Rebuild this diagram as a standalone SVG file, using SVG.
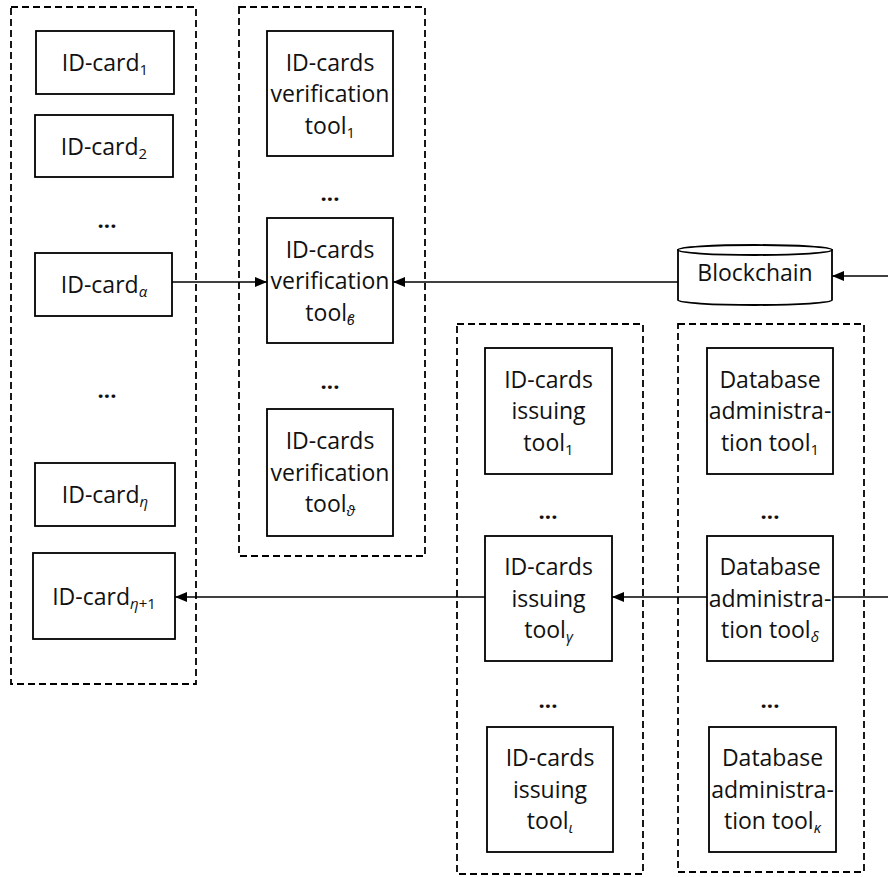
<svg xmlns="http://www.w3.org/2000/svg" width="888" height="877" viewBox="0 0 888 877">
<style>
.grp{fill:none;stroke:#000;stroke-width:1.8;stroke-dasharray:7,4}
.box{fill:#fff;stroke:#000;stroke-width:1.8}
.t{font-family:"Open Sans","Liberation Sans",sans-serif;font-size:23px;fill:#111;text-anchor:middle}
.s{font-size:15px}
.i{font-style:italic}
.dots{font-family:"Open Sans","Liberation Sans",sans-serif;font-size:22px;font-weight:bold;fill:#111;text-anchor:middle}
.ln{fill:none;stroke:#000;stroke-width:1.5}
</style>
<defs>
<marker id="ah" viewBox="0 0 12 10" refX="12" refY="5" markerWidth="12" markerHeight="10" markerUnits="userSpaceOnUse" orient="auto">
<path d="M0,0 L12,5 L0,10 z" fill="#000"/>
</marker>
</defs>
<g id="groups">
<rect id="grp-idcards" class="grp" x="11" y="7" width="185" height="677"/>
<rect id="grp-verification" class="grp" x="239" y="7" width="186" height="549"/>
<rect id="grp-issuing" class="grp" x="457" y="324" width="186" height="550"/>
<rect id="grp-database" class="grp" x="678" y="324" width="186" height="548"/>
</g>
<g id="connectors">
<line class="ln" x1="172" y1="282" x2="267" y2="282" marker-end="url(#ah)"/>
<line class="ln" x1="678" y1="282" x2="393" y2="282" marker-end="url(#ah)"/>
<line class="ln" x1="888" y1="276" x2="832" y2="276" marker-end="url(#ah)"/>
<line class="ln" x1="485" y1="597" x2="175" y2="597" marker-end="url(#ah)"/>
<line class="ln" x1="707" y1="597" x2="612" y2="597" marker-end="url(#ah)"/>
<line class="ln" x1="833" y1="597" x2="888" y2="597"/>
</g>
<g id="idcard1"><rect class="box" x="36" y="31" width="138" height="63"/><text class="t" x="105" y="71">ID-card<tspan class="s" dy="4">1</tspan></text></g>
<g id="idcard2"><rect class="box" x="35" y="115" width="138" height="62"/><text class="t" x="104" y="155">ID-card<tspan class="s" dy="4">2</tspan></text></g>
<text class="dots" x="107" y="228">...</text>
<g id="idcard-alpha"><rect class="box" x="35" y="253" width="137" height="63"/><text class="t" x="104" y="293">ID-card<tspan class="s i" dy="4">α</tspan></text></g>
<text class="dots" x="107" y="398">...</text>
<g id="idcard-eta"><rect class="box" x="35" y="463" width="140" height="63"/><text class="t" x="105" y="503">ID-card<tspan class="s i" dy="4">η</tspan></text></g>
<g id="idcard-eta1"><rect class="box" x="33" y="553" width="142" height="86"/><text class="t" x="104" y="605">ID-card<tspan class="s i" dy="4">η</tspan><tspan class="s">+1</tspan></text></g>

<g id="verif1"><rect class="box" x="267" y="31" width="126" height="125"/>
<text class="t" x="330" y="70.5">ID-cards</text><text class="t" x="330" y="102">verification</text><text class="t" x="330" y="133.5">tool<tspan class="s" dy="4">1</tspan></text></g>
<text class="dots" x="330" y="201">...</text>
<g id="verif-beta"><rect class="box" x="267" y="218" width="126" height="125"/>
<text class="t" x="330" y="257.5">ID-cards</text><text class="t" x="330" y="289">verification</text><text class="t" x="330" y="320.5">tool<tspan class="s i" dy="4">ϐ</tspan></text></g>
<text class="dots" x="330" y="389">...</text>
<g id="verif-theta"><rect class="box" x="267" y="409" width="126" height="127"/>
<text class="t" x="330" y="449">ID-cards</text><text class="t" x="330" y="480.5">verification</text><text class="t" x="330" y="512">tool<tspan class="s i" dy="4">ϑ</tspan></text></g>

<g id="blockchain">
<path class="box" d="M678,250 L678,300 A77,5 0 0 0 832,300 L832,250 Z"/>
<ellipse class="box" cx="755" cy="250" rx="77" ry="5"/>
<text class="t" x="755" y="281">Blockchain</text>
</g>

<g id="issue1"><rect class="box" x="485" y="348" width="127" height="126"/>
<text class="t" x="548.5" y="387.5">ID-cards</text><text class="t" x="548.5" y="419">issuing</text><text class="t" x="548.5" y="450.5">tool<tspan class="s" dy="4">1</tspan></text></g>
<text class="dots" x="548" y="519">...</text>
<g id="issue-gamma"><rect class="box" x="485" y="536" width="127" height="125"/>
<text class="t" x="548.5" y="575">ID-cards</text><text class="t" x="548.5" y="606.5">issuing</text><text class="t" x="548.5" y="638">tool<tspan class="s i" dy="4">γ</tspan></text></g>
<text class="dots" x="548" y="708">...</text>
<g id="issue-iota"><rect class="box" x="487" y="727" width="126" height="125"/>
<text class="t" x="550" y="766">ID-cards</text><text class="t" x="550" y="797.5">issuing</text><text class="t" x="550" y="829">tool<tspan class="s i" dy="4">ι</tspan></text></g>

<g id="db1"><rect class="box" x="707" y="348" width="126" height="126"/>
<text class="t" x="770" y="387.5">Database</text><text class="t" x="770" y="419">administra-</text><text class="t" x="770" y="450.5">tion tool<tspan class="s" dy="4">1</tspan></text></g>
<text class="dots" x="770" y="519">...</text>
<g id="db-delta"><rect class="box" x="707" y="536" width="126" height="125"/>
<text class="t" x="770" y="575">Database</text><text class="t" x="770" y="606.5">administra-</text><text class="t" x="770" y="638">tion tool<tspan class="s i" dy="4">δ</tspan></text></g>
<text class="dots" x="770" y="708">...</text>
<g id="db-kappa"><rect class="box" x="709" y="727" width="127" height="125"/>
<text class="t" x="772.5" y="766">Database</text><text class="t" x="772.5" y="797.5">administra-</text><text class="t" x="772.5" y="829">tion tool<tspan class="s i" dy="4">κ</tspan></text></g>
</svg>
